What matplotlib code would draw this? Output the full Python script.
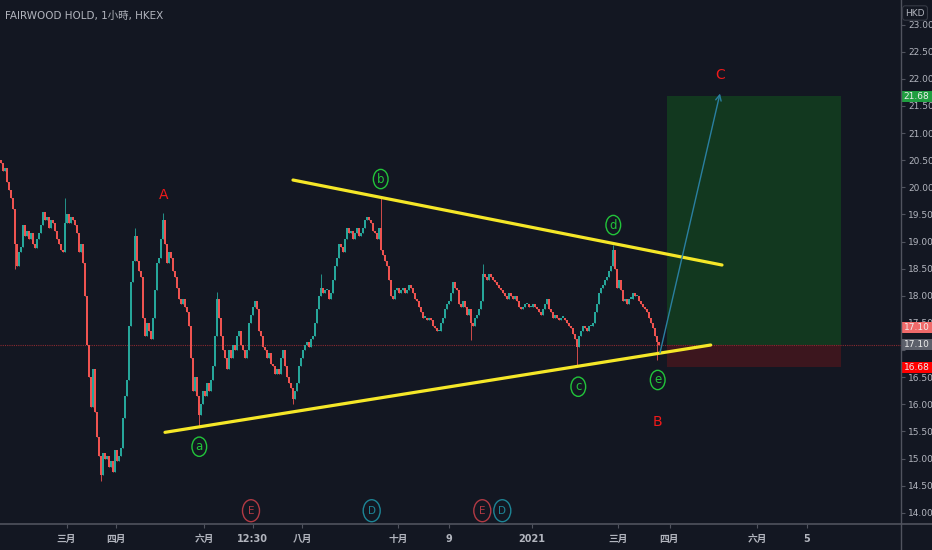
import numpy as np
import matplotlib.pyplot as plt
import matplotlib.transforms as mtransforms
from matplotlib.patches import Ellipse, Rectangle
from matplotlib.lines import Line2D

plt.rcParams['font.family'] = ['DejaVu Sans', 'Noto Sans CJK TC']
NARROW = ['Liberation Sans Narrow', 'DejaVu Sans', 'Noto Sans CJK TC']

# closes, roughly one candle per 2 px
first_open = 20.50
closes = [
    20.45, 20.30, 20.35, 20.10, 19.95, 19.80, 19.60, 18.95, 18.55, 18.80,
    18.90, 19.30, 19.10, 19.20, 19.05, 19.15, 18.95, 18.88, 19.05, 19.15,
    19.30, 19.55, 19.40, 19.45, 19.25, 19.40, 19.35, 19.20, 19.05, 18.95,
    18.85, 18.80, 19.35, 19.50, 19.35, 19.45, 19.40, 19.30, 19.15, 18.80,
    18.95, 18.60, 18.00, 17.10, 16.50, 15.95, 16.65, 15.85, 15.40, 15.05,
    14.70, 15.10, 15.00, 15.05, 14.85, 14.95, 14.75, 15.15, 14.95, 15.05,
    15.20, 15.75, 16.15, 16.45, 17.45, 18.25, 18.65, 19.10, 18.65, 18.45,
    18.35, 17.60, 17.25, 17.50, 17.35, 17.20, 17.60, 18.10, 18.60, 18.70,
    19.05, 19.40, 18.95, 18.60, 18.80, 18.70, 18.45, 18.35, 18.15, 17.95,
    17.85, 17.95, 17.80, 17.70, 17.45, 16.85, 16.25, 16.50, 16.15, 15.80,
    16.00, 16.25, 16.15, 16.40, 16.25, 16.45, 16.70, 17.25, 17.95, 17.60,
    17.25, 17.00, 16.85, 16.65, 17.00, 16.85, 17.10, 17.00, 17.25, 17.35,
    17.10, 17.00, 16.85, 17.00, 17.50, 17.65, 17.80, 17.90, 17.75, 17.35,
    17.25, 17.05, 17.00, 16.85, 16.95, 16.75, 16.70, 16.55, 16.65, 16.55,
    16.85, 17.00, 16.70, 16.50, 16.40, 16.30, 16.10, 16.25, 16.40, 16.70,
    16.85, 17.00, 17.10, 17.15, 17.05, 17.20, 17.25, 17.50, 17.75, 18.00,
    18.15, 18.05, 18.10, 18.10, 17.95, 18.05, 18.30, 18.55, 18.70, 18.95,
    18.90, 18.80, 19.05, 19.25, 19.15, 19.20, 19.05, 19.15, 19.25, 19.10,
    19.15, 19.25, 19.40, 19.45, 19.40, 19.35, 19.20, 19.15, 19.05, 19.25,
    18.85, 18.75, 18.65, 18.55, 18.30, 18.00, 17.95, 18.10, 18.15, 18.05,
    18.10, 18.15, 18.05, 18.10, 18.20, 18.15, 18.05, 17.95, 17.90, 17.80,
    17.70, 17.60, 17.60, 17.55, 17.60, 17.55, 17.45, 17.40, 17.35, 17.35,
    17.50, 17.60, 17.75, 17.85, 17.90, 18.05, 18.25, 18.15, 18.10, 17.85,
    17.80, 17.90, 17.80, 17.65, 17.75, 17.50, 17.45, 17.60, 17.65, 17.75,
    17.90, 18.40, 18.35, 18.30, 18.40, 18.35, 18.30, 18.25, 18.20, 18.15,
    18.10, 18.05, 18.00, 17.95, 18.05, 18.00, 17.95, 18.00, 17.90, 17.80,
    17.75, 17.80, 17.85, 17.85, 17.80, 17.80, 17.85, 17.80, 17.75, 17.70,
    17.65, 17.75, 17.85, 17.95, 17.75, 17.70, 17.60, 17.65, 17.60, 17.55,
    17.60, 17.60, 17.55, 17.50, 17.45, 17.40, 17.30, 17.20, 17.05, 17.25,
    17.35, 17.45, 17.40, 17.35, 17.45, 17.45, 17.50, 17.70, 17.85, 18.05,
    18.15, 18.20, 18.30, 18.35, 18.45, 18.55, 18.85, 18.50, 18.15, 18.30,
    18.10, 17.90, 17.95, 17.85, 17.95, 17.95, 18.05, 18.00, 18.00, 17.90,
    17.85, 17.80, 17.75, 17.70, 17.60, 17.50, 17.40, 17.25, 17.15, 17.10,
]
# wick extremes that stick out of the bodies
wick_highs = {32: 19.80, 67: 19.25, 81: 19.52, 108: 18.07, 160: 18.41,
              190: 19.80, 241: 18.58, 306: 18.93}
wick_lows = {7: 18.50, 50: 14.58, 99: 15.60, 146: 16.00, 235: 17.18,
             288: 16.72, 328: 16.82}

last_price = 17.10
target = 21.68
stop = 16.68

x_tick_pos = [32.75, 57.5, 101.5, 125.75, 150.5, 198.5, 223.75, 265.35,
              308.5, 334.25, 378.2, 402.85]
x_tick_labels = ['三月', '四月', '六月', '12:30', '八月', '十月', '9', '2021',
                 '三月', '四月', '六月', '5']
y_ticks = np.arange(14.0, 23.01, 0.5)

upper_line = ([146, 360.5], [20.135, 18.568])
lower_line = ([82, 354.85], [15.483, 17.093])
wave_labels = ['a', 'b', 'c', 'd', 'e']
wave_pos = [(99.15, 15.218), (189.85, 20.153), (288.65, 16.324),
            (306.15, 19.305), (328.35, 16.448)]
big_labels = ['A', 'B', 'C']
big_pos = [(81.5, 19.858), (328.35, 15.679), (359.5, 22.071)]
events = ['E', 'D', 'E', 'D']
event_x = [125.0, 185.35, 240.65, 250.65]

BG = '#131722'
TXT = '#b2b5be'
AXC = '#50535e'
UP = '#26a69a'
DOWN = '#ef5350'

fig = plt.figure(figsize=(9.32, 5.5), dpi=100, facecolor=BG)
ax = fig.add_axes([0, 26 / 550, 901 / 932, 524 / 550])
ax.set_facecolor(BG)

# candles
opens = [first_open] + closes[:-1]
idx = np.arange(len(closes))
highs = [max(o, c) for o, c in zip(opens, closes)]
lows = [min(o, c) for o, c in zip(opens, closes)]
for i, v in wick_highs.items():
    highs[i] = v
for i, v in wick_lows.items():
    lows[i] = v
cols = [UP if c >= o else DOWN for o, c in zip(opens, closes)]
ax.vlines(idx, lows, highs, colors=cols, lw=0.6, zorder=3)
body_lo = [min(o, c) for o, c in zip(opens, closes)]
body_h = [max(abs(c - o), 0.02) for o, c in zip(opens, closes)]
ax.bar(idx, body_h, bottom=body_lo, width=0.6, color=cols, lw=0, zorder=3)

# last price dotted line
ax.axhline(last_price, color='#8a2a30', lw=0.8, ls=(0, (1, 1)), zorder=2)

# long position boxes
ax.add_patch(Rectangle((332.85, last_price), 87, target - last_price,
                       facecolor='#12381f', edgecolor='none', zorder=1))
ax.add_patch(Rectangle((332.85, stop), 87, last_price - stop,
                       facecolor='#3c161e', edgecolor='none', zorder=1))

# triangle lines
ax.plot(*upper_line, color='#f5e728', lw=2.3, solid_capstyle='round', zorder=5)
ax.plot(*lower_line, color='#f5e728', lw=2.3, solid_capstyle='round', zorder=5)

# projection arrow
ax.annotate('', xy=(359.5, 21.73), xytext=(329.5, 16.95),
            arrowprops=dict(arrowstyle='->', color='#2a7fa0', lw=1.0,
                            shrinkA=0, shrinkB=0, mutation_scale=10), zorder=6)

# wave labels
for lab, (x, y) in zip(wave_labels, wave_pos):
    ax.add_patch(Ellipse((x, y), 7.35, 0.356, facecolor='none',
                         edgecolor='#22c43a', lw=1.0, zorder=6))
    ax.text(x, y, lab, color='#22c43a', fontsize=8.5, ha='center',
            va='center', zorder=7)
for lab, (x, y) in zip(big_labels, big_pos):
    ax.text(x, y, lab, color='#f01a1a', fontsize=10, ha='center',
            va='center', family=NARROW, zorder=7)

# earnings / dividend markers
for lab, x in zip(events, event_x):
    c = '#b23a44' if lab == 'E' else '#1d8596'
    ax.add_patch(Ellipse((x, 14.038), 8.5, 0.405, facecolor='none',
                         edgecolor=c, lw=1.0, zorder=6))
    ax.text(x, 14.038, lab, color=c, fontsize=7.5, ha='center', va='center',
            family=NARROW, zorder=7)

ax.set_xlim(-0.5, 450)
ax.set_ylim(13.793, 23.454)

for s in ax.spines.values():
    s.set_visible(False)
ax.yaxis.tick_right()
ax.set_yticks(y_ticks)
# 17.00 sits under the last-price tag, so its label is left blank
ax.set_yticklabels(['' if abs(v - 17.0) < 1e-6 else f'{v:.2f}' for v in y_ticks])
ax.set_xticks(x_tick_pos)
ax.set_xticklabels(x_tick_labels)
ax.tick_params(axis='y', colors=AXC, labelcolor=TXT, labelsize=6.5,
               length=3, width=0.8, pad=2)
ax.tick_params(axis='x', colors=AXC, labelcolor=TXT, labelsize=7,
               length=3, width=0.8, pad=4)
for t in ax.get_yticklabels():
    t.set_family(NARROW)
for t in ax.get_xticklabels():
    t.set_family(NARROW)
    t.set_fontweight('bold')

# frame lines across the full figure
fig.add_artist(Line2D([0, 1], [26 / 550, 26 / 550], color=AXC, lw=1.2,
                      transform=fig.transFigure))
fig.add_artist(Line2D([901 / 932, 901 / 932], [0, 1], color=AXC, lw=1.0,
                      transform=fig.transFigure))

# price tags on the scale
trans = mtransforms.blended_transform_factory(ax.transAxes, ax.transData)
tags = [(target, target, '#1f9e40'), (17.42, last_price, '#f06a6a'),
        (last_price, last_price, '#5d606b'), (stop, stop, '#ff0000')]
for ypos, val, c in tags:
    ax.add_patch(Rectangle((1.0, ypos - 0.1), 0.0345, 0.2, facecolor=c,
                           edgecolor='none', transform=trans, clip_on=False,
                           zorder=10))
    ax.text(1.0172, ypos, f'{val:.2f}', color='#ececec', fontsize=6.5,
            ha='center', va='center', transform=trans, clip_on=False,
            family=NARROW, zorder=11)

fig.text(915 / 932, 1 - 13 / 550, 'HKD', color=TXT, fontsize=6.5,
         ha='center', va='center', family=NARROW,
         bbox=dict(boxstyle='round,pad=0.3,rounding_size=0.3',
                   facecolor=BG, edgecolor='#363a45', lw=0.8))

fig.text(5 / 932, 1 - 16 / 550, 'FAIRWOOD HOLD, 1小時, HKEX', color=TXT,
         fontsize=7.5, ha='left', va='center', family=NARROW)

fig.savefig('out.png', dpi=100, facecolor=BG)
